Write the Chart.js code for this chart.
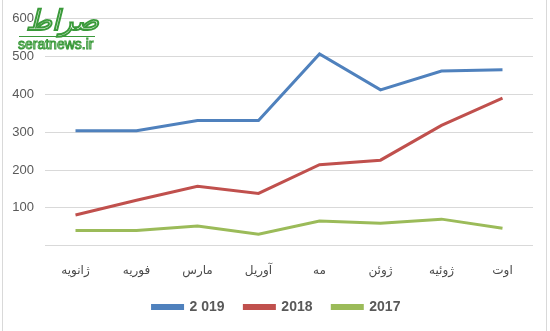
<!DOCTYPE html>
<html>
<head>
<meta charset="utf-8">
<script src="https://cdn.jsdelivr.net/npm/chart.js@4.4.0/dist/chart.umd.min.js"></script>
<style>
  html, body { margin: 0; padding: 0; background: #fff; }
  #wrap { width: 550px; height: 331px; position: relative; }
</style>
</head>
<body>
<div id="wrap"><canvas id="myLineChart" width="550" height="331"></canvas></div>
<script>
// months (Persian names, Gregorian calendar)
var months = ["ژانویه", "فوریه", "مارس", "آوریل", "مه", "ژوئن", "ژوئیه", "اوت"];
var values2019 = [304, 304, 331, 331, 507, 412, 462, 465];
var values2018 = [81, 120, 157, 138, 214, 226, 318, 390];
var values2017 = [40, 40, 52, 30, 65, 59, 70, 46];
var yTicks = [0, 100, 200, 300, 400, 500, 600];

var textGray = "#595959";

// nudge the legend row a little to the right of the canvas centre
var legendShift = {
     id: 'legendShift',
     afterLayout: function (chart) {
          if (chart.legend) {
               chart.legend.left += 9;
               chart.legend.right += 9;
          }
     }
};

// thin frame plus the site stamp in the corner
var framePlugin = {
     id: 'frame',
     afterDraw: function (chart) {
          var c = chart.ctx;
          c.save();
          c.strokeStyle = "#d9d9d9";
          c.lineWidth = 1;
          c.beginPath();
          c.moveTo(2.5, 0); c.lineTo(2.5, 331);
          c.moveTo(546.5, 0); c.lineTo(546.5, 331);
          c.stroke();

          c.strokeStyle = "#3a9a3a";
          c.lineWidth = 1;
          c.textAlign = "left";
          c.textBaseline = "alphabetic";
          c.font = "italic bold 28px 'DejaVu Sans'";
          c.strokeText("صراط", 26, 30);
          c.beginPath();
          c.moveTo(19, 36.5); c.lineTo(95, 36.5);
          c.stroke();
          c.font = "14px 'Liberation Sans'";
          c.strokeText("seratnews.ir", 18, 49);
          c.restore();
     }
};

var ctxL = document.getElementById('myLineChart').getContext('2d');
var myLineChart = new Chart(ctxL, {
     type: 'line',
     data: {
          labels: months,
          datasets: [{
               label: '2 019  ',
               data: values2019,
               borderColor: '#4F81BD',
               backgroundColor: '#4F81BD'
          }, {
               label: '2018  ',
               data: values2018,
               borderColor: '#C0504D',
               backgroundColor: '#C0504D'
          }, {
               label: '2017',
               data: values2017,
               borderColor: '#9BBB59',
               backgroundColor: '#9BBB59'
          }]
     },
     options: {
          responsive: false,
          animation: false,
          elements: {
               line: { borderWidth: 3, tension: 0 },
               point: { radius: 0, hoverRadius: 0 }
          },
          layout: { padding: { top: 7, left: 2, right: 17, bottom: 7 } },
          scales: {
               x: {
                    offset: true,
                    grid: { display: false },
                    border: { display: false },
                    ticks: {
                         color: "#4a4a4a",
                         font: { family: "'DejaVu Sans'", size: 12 },
                         padding: 10,
                         maxRotation: 0
                    }
               },
               y: {
                    min: 0,
                    max: 600,
                    afterBuildTicks: function (axis) {
                         axis.ticks = yTicks.map(function (v) { return { value: v }; });
                    },
                    afterFit: function (axis) {
                         axis.width = 43;
                    },
                    grid: { color: "#d9d9d9", lineWidth: 1, drawTicks: false },
                    border: { display: false },
                    ticks: {
                         color: textGray,
                         font: { family: "'Liberation Sans'", size: 13 },
                         padding: 11,
                         callback: function (v) { return v === 0 ? '' : v; }
                    }
               }
          },
          plugins: {
               legend: {
                    position: 'bottom',
                    labels: {
                         color: textGray,
                         font: { family: "'Liberation Sans'", size: 14, weight: 'bold' },
                         boxWidth: 30,
                         boxHeight: 3,
                         padding: 12
                    }
               },
               tooltip: { enabled: false }
          }
     },
     plugins: [legendShift, framePlugin]
});
</script>
</body>
</html>
